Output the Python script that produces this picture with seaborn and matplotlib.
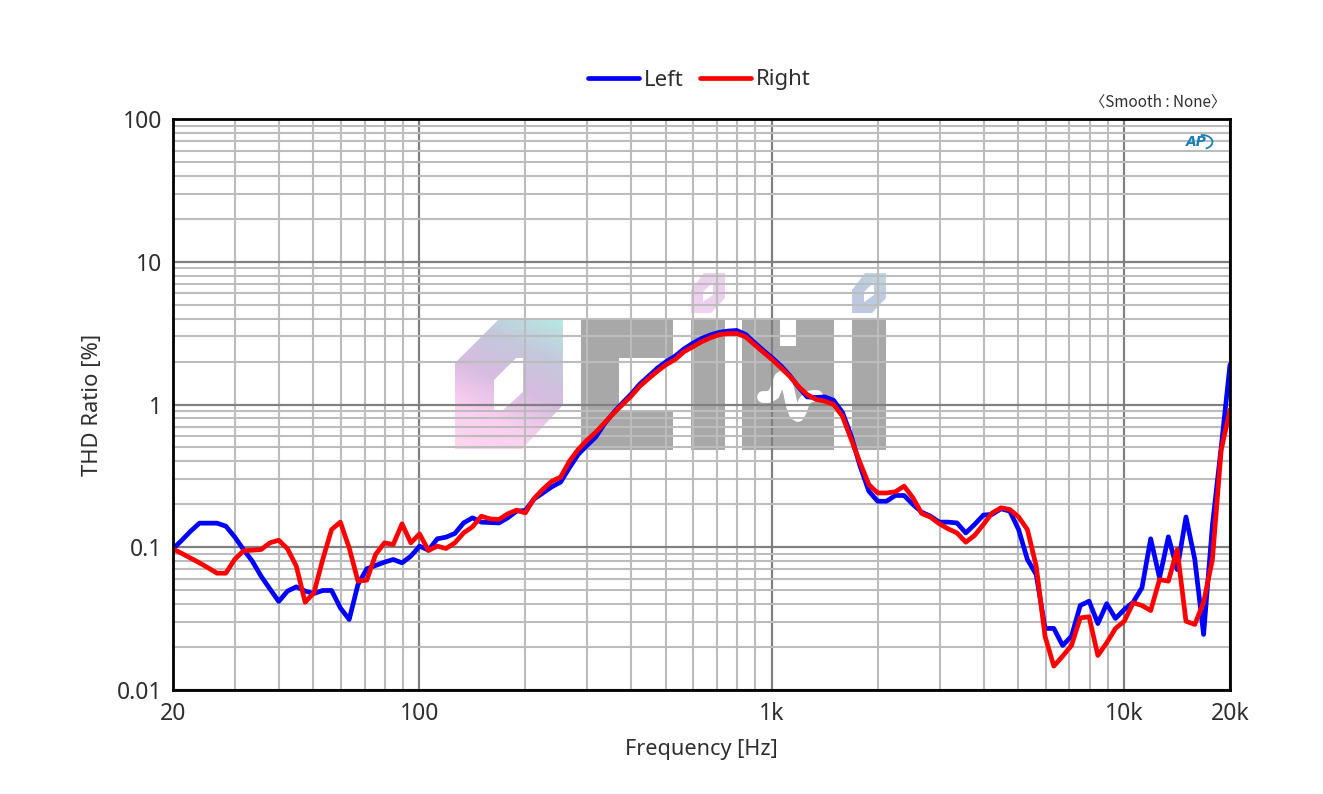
import numpy as np
import pandas as pd
import seaborn as sns
import matplotlib
matplotlib.use("Agg")
import matplotlib.pyplot as plt
from matplotlib.patches import Rectangle, Arc, PathPatch
from matplotlib.path import Path
from matplotlib.colors import LinearSegmentedColormap
from matplotlib.ticker import NullFormatter, FixedLocator, FixedFormatter

FREQ = [20, 21.19, 22.44, 23.77, 25.18, 26.67, 28.25, 29.92, 31.7, 33.58, 35.57, 37.67, 39.91, 42.27, 44.77, 47.43,
        50.24, 53.21, 56.37, 59.71, 63.25, 66.99, 70.96, 75.17, 79.62, 84.34, 89.34, 94.63,
        100.2, 106.2, 112.5, 119.1, 126.2, 133.7, 141.6, 150, 158.9, 168.3, 178.3, 188.8,
        200, 211.9, 224.4, 237.7, 251.8, 266.7, 282.5, 299.2, 317, 335.8, 355.7, 376.7, 399.1, 422.7, 447.7, 474.3,
        502.4, 532.1, 563.7, 597.1, 632.5, 669.9, 709.6, 751.7, 796.2, 843.4, 893.4, 946.3,
        1002, 1062, 1125, 1191, 1262, 1337, 1416, 1500, 1589, 1683, 1783, 1888,
        2000, 2119, 2244, 2377, 2518, 2667, 2825, 2992, 3170, 3358, 3557, 3767, 3991, 4227, 4477, 4743,
        5024, 5321, 5637, 5971, 6325, 6699, 7096, 7517, 7962, 8434, 8934, 9463,
        10020, 10620, 11250, 11910, 12620, 13370, 14160, 15000, 15890, 16830, 17830, 18880, 20000]

LEFT = [.0975, .112, .1296, .1475, .1475, .1475, .1405, .1183, .0964, .0799, .0627, .0511, .0417, .0493, .0528, .0493,
        .0474, .0498, .0498, .0376, .0312, .0548, .0706, .0745, .0786, .0821, .0778, .0866, .1018, .0954, .1146, .1177,
        .1249, .1483, .1607, .150, .149, .148, .1607, .179, .181, .218, .24, .265, .286, .36, .447, .516, .593, .735,
        .875, 1.02, 1.18, 1.39, 1.58, 1.80, 2.0, 2.18, 2.45, 2.68, 2.9, 3.07, 3.2, 3.27, 3.3, 3.1, 2.72, 2.4, 2.13,
        1.87, 1.6, 1.33, 1.13, 1.12, 1.13, 1.07, .88, .6, .37, .247, .21, .21, .2305, .2305, .1995, .176, .165, .15,
        .15, .148, .126, .1443, .168, .17, .186, .179, .133, .0821, .0644, .027, .027, .0205, .0238, .0391, .0419,
        .0292, .0402, .0317, .0366, .0412, .052, .1146, .061, .1183, .0698, .163, .0821, .0245, .143, .5, 1.9]

RIGHT = [.0975, .0904, .0839, .0778, .0717, .0658, .0658, .0821, .0944, .0954, .0964, .1074, .112, .0975, .0737, .0412,
         .048, .0821, .133, .150, .099, .0579, .0588, .089, .1074, .1045, .1459, .1074, .124, .0949, .1018, .098,
         .1074, .1262, .139, .165, .158, .1565, .1714, .182, .174, .22, .255, .29, .31, .40, .484, .562, .64, .745,
         .865, .995, 1.143, 1.343, 1.52, 1.712, 1.905, 2.066, 2.34, 2.535, 2.75, 2.93, 3.08, 3.14, 3.14, 2.98, 2.63,
         2.33, 2.07, 1.81, 1.58, 1.34, 1.175, 1.084, 1.055, 1.0, .828, .569, .39, .275, .24, .24, .2445, .268, .222,
         .1724, .1624, .146, .1346, .126, .1085, .121, .1443, .174, .189, .184, .163, .133, .0737, .0238, .01469,
         .01726, .0205, .032, .0326, .01745, .0214, .027, .0303, .0408, .0391, .036, .0594, .0579, .0964, .0303,
         .0288, .0412, .0821, .48, .92]

X_TICKS = [20, 100, 1000, 10000, 20000]
X_LABELS = ["20", "100", "1k", "10k", "20k"]
Y_TICKS = [0.01, 0.1, 1, 10, 100]
Y_LABELS = ["0.01", "0.1", "1", "10", "100"]

W, H = 1323, 794
FONT = ["Noto Sans", "Noto Sans CJK KR", "DejaVu Sans"]
sns.set_theme(style="white")
plt.rcParams["font.family"] = FONT
TXT = "#2e2e2e"

fig = plt.figure(figsize=(W / 100, H / 100), dpi=100, facecolor="white")

# watermark layer, in figure pixels
bg = fig.add_axes([0, 0, 1, 1], zorder=0)
bg.set_xlim(0, W)
bg.set_ylim(H, 0)
bg.axis("off")

GREY = "#a8a8a8"


def grad_hex(pts, hole, colors):
    xs = [p[0] for p in pts]
    ys = [p[1] for p in pts]
    x0, x1, y0, y1 = min(xs), max(xs), min(ys), max(ys)
    cmap = LinearSegmentedColormap.from_list("g", colors)
    n = 120
    u, v = np.meshgrid(np.linspace(0, 1, n), np.linspace(0, 1, n))
    g = np.clip(0.72 * v + 0.28 * (1 - u), 0, 1)
    im = bg.imshow(g, extent=(x0, x1, y1, y0), cmap=cmap, vmin=0, vmax=1, aspect="auto", zorder=1)
    verts = list(pts) + [pts[0]] + list(hole)[::-1] + [hole[-1]]
    codes = [Path.MOVETO] + [Path.LINETO] * (len(pts) - 1) + [Path.CLOSEPOLY] + \
            [Path.MOVETO] + [Path.LINETO] * (len(hole) - 1) + [Path.CLOSEPOLY]
    patch = PathPatch(Path(verts, codes), transform=bg.transData, fc="none", ec="none")
    bg.add_patch(patch)
    im.set_clip_path(patch)


grad_hex([(455, 363), (498, 320), (563, 320), (563, 405), (522, 449), (455, 449)],
         [(494, 380), (516, 358), (523, 358), (523, 392), (503, 410), (494, 410)],
         ["#b8e8e4", "#c4c8dc", "#d8bce2", "#fdd0f2", "#ffd6ee"])
grad_hex([(691, 290), (704, 273), (725, 273), (725, 298), (711, 313), (691, 313)],
         [(703, 292), (713, 282), (713, 295), (703, 302)],
         ["#eed4ee", "#eecff0", "#f4d4f2"])
grad_hex([(852, 290), (865, 273), (886, 273), (886, 298), (872, 313), (852, 313)],
         [(864, 292), (874, 282), (874, 295), (864, 302)],
         ["#c0dce6", "#bccae0", "#c2c8e2"])

for (x0, y0, x1, y1) in [(581, 320, 673, 450), (691, 320, 725, 450), (742, 320, 834, 450), (852, 320, 886, 450)]:
    bg.add_patch(Rectangle((x0, y0), x1 - x0, y1 - y0, fc=GREY, ec="none", zorder=2))
bg.add_patch(Rectangle((619, 358), 54, 52, fc="white", ec="none", zorder=3))
bg.add_patch(Rectangle((780, 320), 16, 26, fc="white", ec="none", zorder=3))
WAVE_X = [763, 769, 774, 777, 780, 783, 786, 789, 792, 795, 798, 801, 804, 808, 813, 817]
WAVE_Y = [397, 397, 394, 386, 378, 376, 381, 392, 406, 414, 416, 411, 402, 397, 396, 396]
bg.plot(WAVE_X, WAVE_Y, color="white", lw=8.5, solid_capstyle="round", solid_joinstyle="round", zorder=3)

# chart
ax = fig.add_axes([173 / W, 1 - 690 / H, (1230 - 173) / W, (690 - 119) / H], zorder=1)
ax.patch.set_alpha(0)
df = pd.DataFrame({"f": FREQ * 2, "v": LEFT + RIGHT, "ch": ["Left"] * len(FREQ) + ["Right"] * len(FREQ)})
sns.lineplot(data=df, x="f", y="v", hue="ch", palette={"Left": "#0000ff", "Right": "#ff0000"},
             estimator=None, sort=False, lw=3.4, ax=ax, legend=True, zorder=5)
ax.set_xscale("log")
ax.set_yscale("log")
ax.set_xlim(20, 20000)
ax.set_ylim(0.01, 100)
ax.set_axisbelow(True)

ax.xaxis.set_major_locator(FixedLocator(X_TICKS))
ax.xaxis.set_major_formatter(FixedFormatter(X_LABELS))
ax.xaxis.set_minor_locator(FixedLocator([m * d for d in (10, 100, 1000, 10000) for m in range(2, 10)
                                         if 20 < m * d < 20000]))
ax.xaxis.set_minor_formatter(NullFormatter())
ax.yaxis.set_major_locator(FixedLocator(Y_TICKS))
ax.yaxis.set_major_formatter(FixedFormatter(Y_LABELS))
ax.yaxis.set_minor_locator(FixedLocator([m * d for d in (0.01, 0.1, 1, 10) for m in range(2, 10)]))
ax.yaxis.set_minor_formatter(NullFormatter())

ax.grid(True, which="minor", color="#bcbcbc", lw=1.5)
ax.grid(True, which="major", color="#808080", lw=1.6)
ax.tick_params(which="both", length=0)
ax.tick_params(axis="x", which="major", labelsize=16.5, labelcolor=TXT, pad=9)
ax.tick_params(axis="y", which="major", labelsize=16.5, labelcolor=TXT, pad=8)
for s in ax.spines.values():
    s.set_visible(True)
    s.set_color("black")
    s.set_linewidth(2.0)
    s.set_zorder(6)

ax.set_xlabel("Frequency [Hz]", fontsize=15.6, color=TXT, labelpad=9)
ax.set_ylabel("THD Ratio [%]", fontsize=15.9, color=TXT, labelpad=9.5)

h, l = ax.get_legend_handles_labels()
ax.legend_.remove()
fig.legend(h, l, loc="center", bbox_to_anchor=(699 / W, 1 - 80 / H), ncol=2, frameon=False, fontsize=16,
           handlelength=2.3, handletextpad=0.2, columnspacing=0.75, labelcolor=TXT)

fig.text(1226 / W, 1 - 102 / H, "〈Smooth : None〉", ha="right", va="center", fontsize=11, color=TXT,
         family=["Noto Sans CJK KR", "DejaVu Sans"])

# AP mark
top = fig.add_axes([0, 0, 1, 1], zorder=3)
top.set_xlim(0, W)
top.set_ylim(H, 0)
top.axis("off")
AP_BLUE = "#1b7fb4"
top.text(1196, 142, "AP", ha="center", va="center", fontsize=10, color=AP_BLUE, style="italic", weight="bold",
         family="DejaVu Sans")
top.add_patch(Arc((1202, 142), 21, 14, theta1=-100, theta2=60, color=AP_BLUE, lw=1.3))

fig.savefig("out.png", dpi=100, facecolor="white")
